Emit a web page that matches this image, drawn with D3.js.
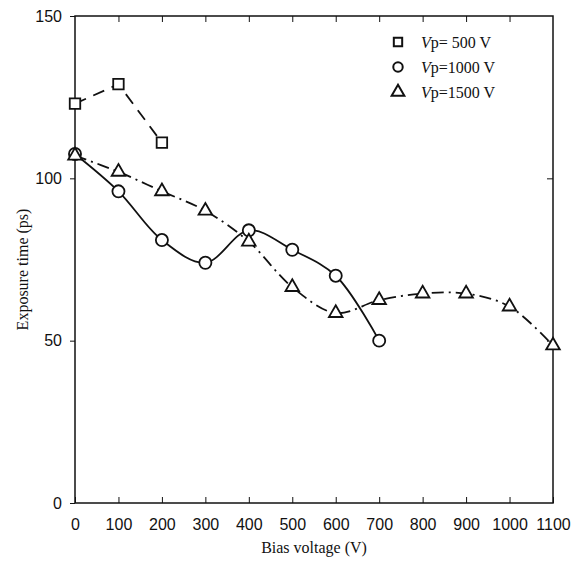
<!DOCTYPE html>
<html>
<head>
<meta charset="utf-8">
<script src="https://cdn.jsdelivr.net/npm/d3@7"></script>
<style>
  body { margin: 0; background: #fff; }
  svg { font-family: "Liberation Serif", "DejaVu Serif", serif; }
</style>
</head>
<body>
<div id="chart"></div>
<script>
// bias voltage (V)
var bias500 = [0, 100, 200]
var bias1000 = [0, 100, 200, 300, 400, 500, 600, 700]
var bias1500 = [0, 100, 200, 300, 400, 500, 600, 700, 800, 900, 1000, 1100]

// exposure time (ps)
var exp500 = [123, 129, 111]
var exp1000 = [107.5, 96, 81, 74, 84, 78, 70, 50]
var exp1500 = [107, 102, 96, 90, 80.5, 66.5, 58.5, 62.5, 64.5, 64.5, 60.5, 48.5]

var xTicks = [0, 100, 200, 300, 400, 500, 600, 700, 800, 900, 1000, 1100]
var yTicks = [0, 50, 100, 150]

var legendNames = ["p= 500 V", "p=1000 V", "p=1500 V"]

// canvas
var margin = {top: 16, right: 22, bottom: 66, left: 75},
    width = 575 - margin.left - margin.right,
    height = 569 - margin.top - margin.bottom;

var svg = d3.select("#chart")
  .append("svg")
    .attr("width", 575)
    .attr("height", 569)
  .append("g")
    .attr("transform", "translate(" + margin.left + "," + margin.top + ")");

var x = d3.scaleLinear().domain([0, 1100]).range([0, width])
var y = d3.scaleLinear().domain([0, 150]).range([height, 0])

// frame
svg.append("rect")
  .attr("width", width)
  .attr("height", height)
  .attr("fill", "none")
  .attr("stroke", "#111")
  .attr("stroke-width", 1.5)

// bottom axis, ticks inward
var xAxis = svg.append("g")
  .attr("transform", "translate(0," + height + ")")
  .call(d3.axisBottom(x).tickValues(xTicks).tickFormat(d3.format("d")).tickSizeInner(-6).tickSizeOuter(0).tickPadding(16))
xAxis.select(".domain").remove()
xAxis.selectAll("text").attr("font-size", "16px").attr("fill", "#111")
xAxis.selectAll("line").attr("stroke", "#111")

// top axis, ticks inward, no labels
var xTop = svg.append("g")
  .call(d3.axisTop(x).tickValues(xTicks.slice(1, -1)).tickSizeInner(-6).tickSizeOuter(0).tickFormat(""))
xTop.select(".domain").remove()
xTop.selectAll("line").attr("stroke", "#111")

// left axis
var yAxis = svg.append("g")
  .call(d3.axisLeft(y).tickValues(yTicks).tickSizeInner(5).tickSizeOuter(0).tickPadding(8))
yAxis.select(".domain").remove()
yAxis.selectAll("text").attr("font-size", "16px").attr("fill", "#111")
yAxis.selectAll("line").attr("stroke", "#111")

// right axis ticks
var yRight = svg.append("g")
  .attr("transform", "translate(" + width + ",0)")
  .call(d3.axisRight(y).tickValues([50, 100]).tickSizeInner(-6).tickSizeOuter(0).tickFormat(""))
yRight.select(".domain").remove()
yRight.selectAll("line").attr("stroke", "#111")

// axis titles
svg.append("text")
  .attr("x", width / 2)
  .attr("y", height + 50)
  .attr("text-anchor", "middle")
  .attr("font-size", "16px")
  .attr("fill", "#111")
  .text("Bias voltage (V)")

svg.append("text")
  .attr("transform", "translate(-47," + (height / 2 + 10) + ") rotate(-90)")
  .attr("text-anchor", "middle")
  .attr("font-size", "16px")
  .attr("fill", "#111")
  .text("Exposure time (ps)")

function pairs(xs, ys) {
  return xs.map(function(d, i) { return [d, ys[i]] })
}

var series = [
  {data: pairs(bias500, exp500), dash: "12,8", curve: d3.curveLinear, sym: d3.symbolSquare, size: 110},
  {data: pairs(bias1000, exp1000), dash: null, curve: d3.curveCatmullRom, sym: d3.symbolCircle, size: 115},
  {data: pairs(bias1500, exp1500), dash: "12,5,2,5", curve: d3.curveCatmullRom, sym: d3.symbolTriangle, size: 80}
]

series.forEach(function(s) {
  svg.append("path")
    .datum(s.data)
    .attr("fill", "none")
    .attr("stroke", "#111")
    .attr("stroke-width", 1.8)
    .attr("stroke-dasharray", s.dash)
    .attr("d", d3.line()
      .curve(s.curve)
      .x(function(d) { return x(d[0]) })
      .y(function(d) { return y(d[1]) }))

  svg.selectAll(null)
    .data(s.data)
    .enter()
    .append("path")
    .attr("transform", function(d) { return "translate(" + x(d[0]) + "," + y(d[1]) + ")" })
    .attr("d", d3.symbol().type(s.sym).size(s.size))
    .attr("fill", "#fff")
    .attr("stroke", "#111")
    .attr("stroke-width", 1.8)
})

// legend
var legend = svg.append("g").attr("transform", "translate(323,26)")
var legendSyms = [d3.symbolSquare, d3.symbolCircle, d3.symbolTriangle]
legendNames.forEach(function(name, i) {
  var row = legend.append("g").attr("transform", "translate(0," + (i * 25) + ")")
  row.append("path")
    .attr("d", d3.symbol().type(legendSyms[i]).size(70))
    .attr("fill", "#fff")
    .attr("stroke", "#111")
    .attr("stroke-width", 2)
  var t = row.append("text")
    .attr("x", 23)
    .attr("y", 6)
    .attr("font-size", "16px")
    .attr("fill", "#111")
  t.append("tspan").attr("font-style", "italic").text("V")
  t.append("tspan").text(name)
})
</script>
</body>
</html>
